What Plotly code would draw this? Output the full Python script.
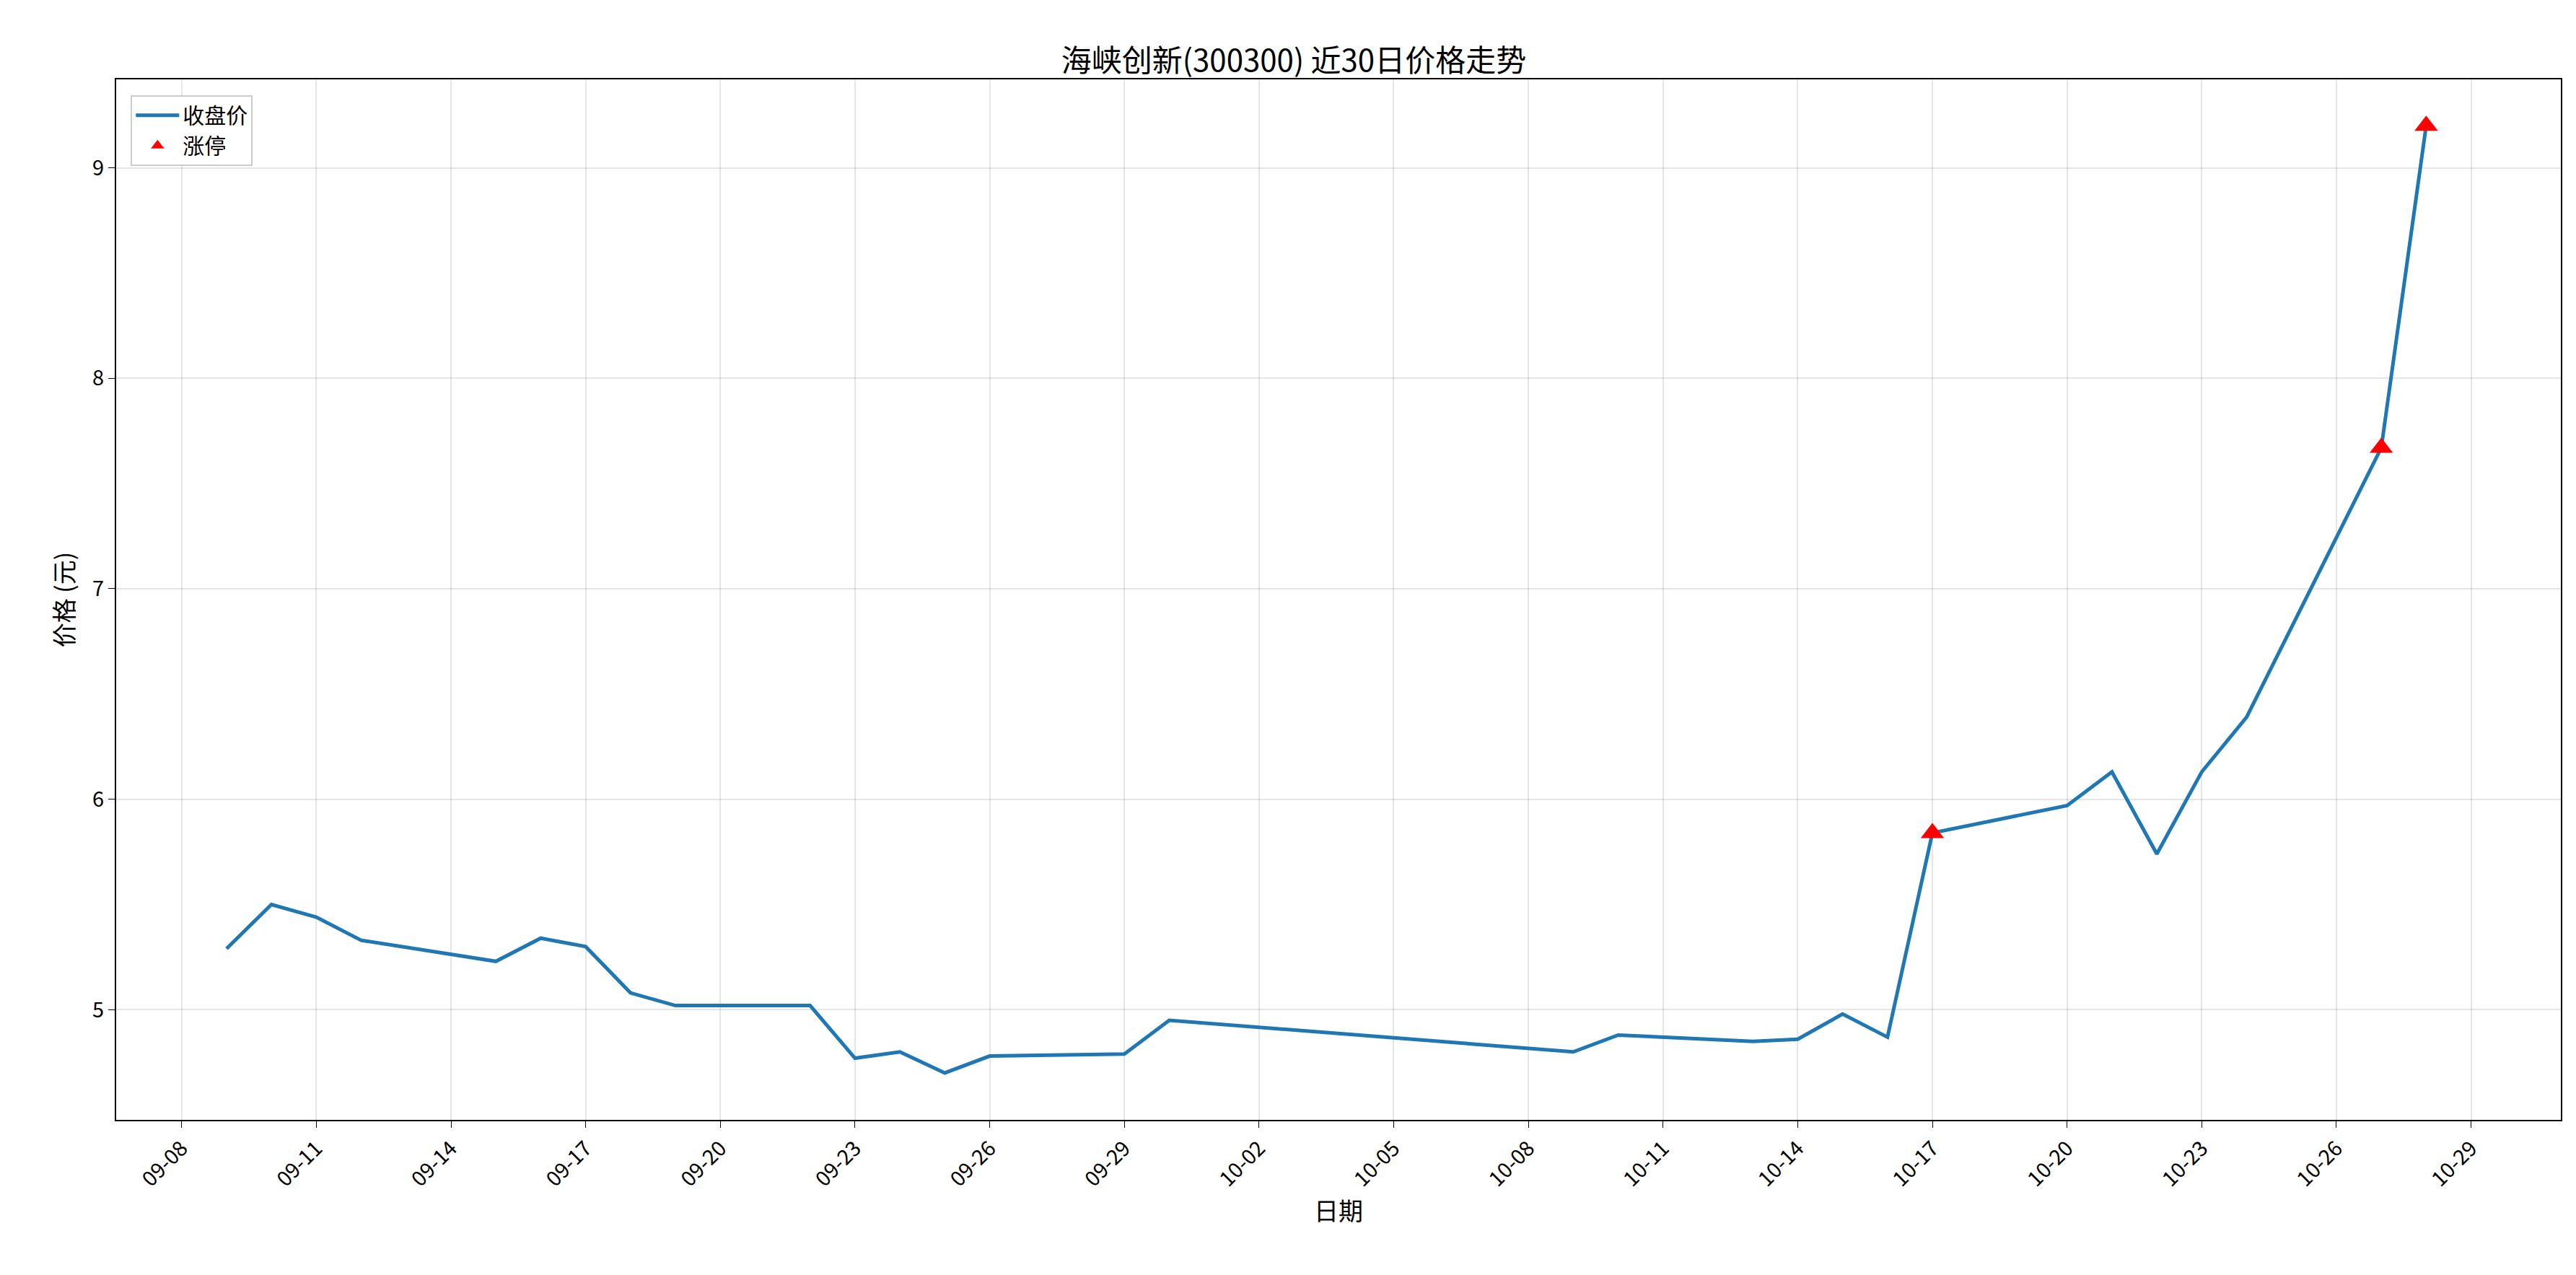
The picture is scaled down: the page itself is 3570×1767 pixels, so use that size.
import plotly.graph_objects as go

dates = ["2025-09-09", "2025-09-10", "2025-09-11", "2025-09-12", "2025-09-15", "2025-09-16",
         "2025-09-17", "2025-09-18", "2025-09-19", "2025-09-22", "2025-09-23", "2025-09-24",
         "2025-09-25", "2025-09-26", "2025-09-29", "2025-09-30", "2025-10-09", "2025-10-10",
         "2025-10-13", "2025-10-14", "2025-10-15", "2025-10-16", "2025-10-17", "2025-10-20",
         "2025-10-21", "2025-10-22", "2025-10-23", "2025-10-24", "2025-10-27", "2025-10-28"]
close = [5.29, 5.50, 5.44, 5.33, 5.23, 5.34, 5.30, 5.08, 5.02, 5.02, 4.77, 4.80,
         4.70, 4.78, 4.79, 4.95, 4.80, 4.88, 4.85, 4.86, 4.98, 4.87, 5.84, 5.97,
         6.13, 5.74, 6.13, 6.39, 7.67, 9.20]
limit_dates = ["2025-10-17", "2025-10-27", "2025-10-28"]
limit_close = [5.84, 7.67, 9.20]

tick_vals = ["2025-09-08", "2025-09-11", "2025-09-14", "2025-09-17", "2025-09-20", "2025-09-23",
             "2025-09-26", "2025-09-29", "2025-10-02", "2025-10-05", "2025-10-08", "2025-10-11",
             "2025-10-14", "2025-10-17", "2025-10-20", "2025-10-23", "2025-10-26", "2025-10-29"]
tick_text = [d[5:] for d in tick_vals]

font = "Noto Sans CJK SC"
fig = go.Figure()
fig.add_trace(go.Scatter(x=dates, y=close, mode="lines", name="收盘价",
                         line=dict(color="#1f77b4", width=5)))
fig.add_trace(go.Scatter(x=limit_dates, y=limit_close, mode="markers", name="涨停",
                         marker=dict(symbol="triangle-up", color="red", size=28)))

axis = dict(showline=True, linecolor="black", linewidth=2, mirror=True, ticks="outside",
            ticklen=9, tickcolor="black", showgrid=True, gridcolor="rgba(0,0,0,0.1)",
            gridwidth=2, zeroline=False, tickfont=dict(size=29, color="black"))
fig.update_layout(
    width=3570, height=1767, plot_bgcolor="white", paper_bgcolor="white",
    font=dict(family=font, color="black"),
    margin=dict(l=153, r=29, t=102, b=223),
    title=dict(text="海峡创新(300300) 近30日价格走势", x=0.5, xanchor="center", y=0.965,
               font=dict(size=42)),
    legend=dict(x=0.006, y=0.985, xanchor="left", yanchor="top", bgcolor="white",
                bordercolor="#cccccc", borderwidth=2, font=dict(size=30),
                itemwidth=60, tracegroupgap=4),
)
fig.update_xaxes(**axis, type="date", range=["2025-09-06 13:00", "2025-10-31"],
                 tickvals=tick_vals, ticktext=tick_text, tickangle=-45,
                 title=dict(text="日期", font=dict(size=34)))
fig.update_yaxes(**axis, range=[4.477, 9.42], tickvals=[5, 6, 7, 8, 9],
                 title=dict(text="价格 (元)", font=dict(size=34)))
fig.write_html("out.html")
